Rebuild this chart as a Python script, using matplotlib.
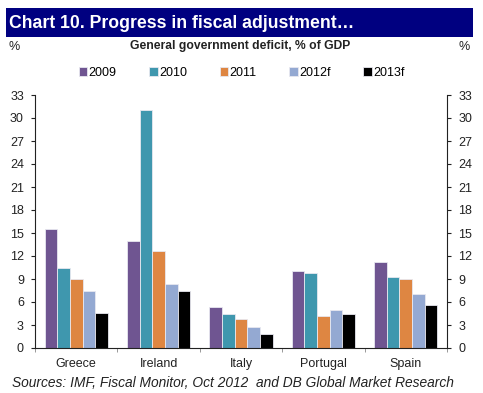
import numpy as np
import matplotlib.pyplot as plt
from matplotlib.patches import Rectangle

plt.rcParams["font.family"] = ["Liberation Sans", "DejaVu Sans"]

countries = ["Greece", "Ireland", "Italy", "Portugal", "Spain"]
years = ["2009", "2010", "2011", "2012f", "2013f"]
deficit_2009 = [15.5, 13.9, 5.3, 10.1, 11.2]
deficit_2010 = [10.4, 31.0, 4.5, 9.8, 9.3]
deficit_2011 = [9.0, 12.7, 3.8, 4.2, 9.0]
deficit_2012f = [7.4, 8.3, 2.7, 5.0, 7.0]
deficit_2013f = [4.6, 7.5, 1.8, 4.4, 5.6]
series = [deficit_2009, deficit_2010, deficit_2011, deficit_2012f, deficit_2013f]
colors = ["#6F5591", "#3F97AE", "#DE8642", "#94A9D2", "#000000"]
yticks = list(range(0, 34, 3))

fig = plt.figure(figsize=(4.83, 3.93), dpi=100)
fig.patch.set_facecolor("white")

# title banner
fig.patches.append(Rectangle((6 / 483, 1 - 37 / 393), 467 / 483, 29 / 393,
                             transform=fig.transFigure, facecolor="#000080",
                             edgecolor="none"))
fig.text(9 / 483, 1 - 24 / 393, "Chart 10. Progress in fiscal adjustment\u2026",
         color="white", fontsize=12.7, fontweight="bold", va="center", ha="left")
fig.text(240 / 483, 1 - 46 / 393, "General government deficit, % of GDP",
         fontsize=8.7, fontweight="bold", ha="center", va="center", color="#222222")
fig.text(14 / 483, 1 - 47 / 393, "%", fontsize=9, ha="center", va="center", color="#222222")
fig.text(464 / 483, 1 - 47 / 393, "%", fontsize=9, ha="center", va="center", color="#222222")

ax = fig.add_axes([35 / 483, 1 - 348 / 393, 412 / 483, 253 / 393])
x = np.arange(len(countries))
w = 0.153
for i, (vals, c, lab) in enumerate(zip(series, colors, years)):
    ax.bar(x + (i - 2) * w, vals, w, color=c, edgecolor="#E8E8F0", linewidth=0.6,
           label=lab)

ax.set_xlim(-0.5, len(countries) - 0.5)
ax.set_ylim(0, 33)
ax.set_yticks(yticks)
ax.set_xticks(x)
ax.set_xticklabels(countries)
ax.set_xticks(np.arange(-0.5, len(countries), 1.0), minor=True)
ax.tick_params(axis="x", which="major", length=0, labelsize=9, pad=7, colors="#222222")
ax.tick_params(axis="x", which="minor", length=3, direction="out", color="#888888")
ax.tick_params(axis="y", length=3, labelsize=9, colors="#222222", left=True,
               right=True, labelright=True, pad=5)
ax.spines["top"].set_visible(False)
for s in ["left", "right", "bottom"]:
    ax.spines[s].set_color("#222222")
    ax.spines[s].set_linewidth(0.8)

ax.legend(loc="center", bbox_to_anchor=(0.5, 1 - 73 / 393), bbox_transform=fig.transFigure,
          ncol=5, frameon=False, fontsize=9, handlelength=0.7, handleheight=0.7,
          handletextpad=0.1, columnspacing=2.6, borderaxespad=0)

fig.text(12 / 483, 1 - 383 / 393,
         "Sources: IMF, Fiscal Monitor, Oct 2012  and DB Global Market Research",
         fontsize=9.9, style="italic", ha="left", va="center", color="#222222")

fig.savefig("out.png", dpi=100, facecolor="white")
